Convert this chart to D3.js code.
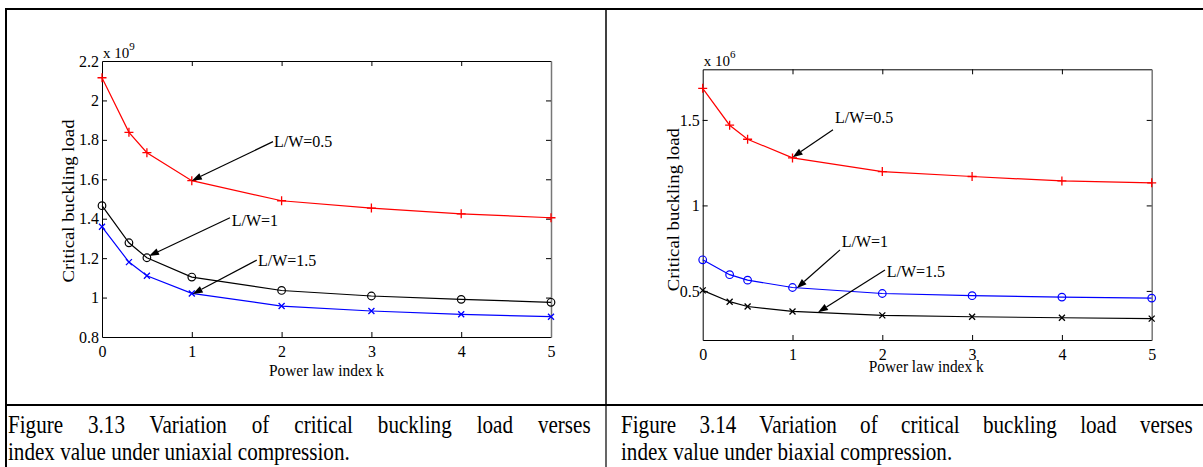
<!DOCTYPE html>
<html><head><meta charset="utf-8">
<script src="https://cdn.jsdelivr.net/npm/d3@7"></script>
<style>body{margin:0;background:#fff}svg{display:block}text{font-family:"Liberation Serif","Times New Roman",serif}</style>
</head><body>
<script>
const kValues = [0, 0.3, 0.5, 1, 2, 3, 4, 5];
// Figure 3.13 (x 10^9)
const uniLW05 = [2.115, 1.838, 1.735, 1.593, 1.491, 1.454, 1.425, 1.405];
const uniLW1  = [1.466, 1.278, 1.202, 1.104, 1.036, 1.008, 0.991, 0.976];
const uniLW15 = [1.359, 1.180, 1.111, 1.021, 0.957, 0.932, 0.915, 0.903];
// Figure 3.14 (x 10^6)
const biLW05 = [1.685, 1.469, 1.387, 1.278, 1.198, 1.169, 1.143, 1.132];
const biLW1  = [0.682, 0.595, 0.563, 0.520, 0.485, 0.472, 0.464, 0.458];
const biLW15 = [0.503, 0.437, 0.409, 0.380, 0.357, 0.349, 0.343, 0.338];
const xTicks = [0, 1, 2, 3, 4, 5];
const uniYTicks = [0.8, 1, 1.2, 1.4, 1.6, 1.8, 2, 2.2];
const biYTicks = [0.5, 1, 1.5];
const uniNotes = [
  {label:"L/W=0.5", head:[1, 1.593], tail:[1.904, 1.791], text:[1.915, 1.79]},
  {label:"L/W=1",   head:[0.523, 1.211], tail:[1.425, 1.405], text:[1.444, 1.393]},
  {label:"L/W=1.5", head:[1.01, 1.018], tail:[1.723, 1.19], text:[1.737, 1.19]}
];
const biNotes = [
  {label:"L/W=0.5", head:[1.002, 1.282], tail:[1.451, 1.442], text:[1.473, 1.512]},
  {label:"L/W=1",   head:[1.047, 0.516], tail:[1.529, 0.74], text:[1.548, 0.788]},
  {label:"L/W=1.5", head:[1.284, 0.375], tail:[2.03, 0.623], text:[2.049, 0.613]}
];
const captions = [
  ["Figure 3.13 Variation of critical buckling load verses", "index value under uniaxial compression."],
  ["Figure 3.14 Variation of critical buckling load verses", "index value under biaxial compression."]
];

const W = 1203, H = 467;
const svg = d3.select("body").append("svg").attr("width", W).attr("height", H);

// table frame
const tbl = svg.append("g").attr("stroke", "#000").attr("fill", "none");
tbl.append("line").attr("x1", 5).attr("x2", W).attr("y1", 9).attr("y2", 9).attr("stroke-width", 2);
tbl.append("line").attr("x1", 6).attr("x2", 6).attr("y1", 8).attr("y2", H).attr("stroke-width", 2);
tbl.append("line").attr("x1", 606).attr("x2", 606).attr("y1", 8).attr("y2", 405).attr("stroke-width", 1.5);
tbl.append("line").attr("x1", 606).attr("x2", 606).attr("y1", 405).attr("y2", H).attr("stroke-width", 1.2);
tbl.append("line").attr("x1", 5).attr("x2", W).attr("y1", 405).attr("y2", 405).attr("stroke-width", 2);

function markerPath(type, s) {
  if (type === "+") return `M${-s},0H${s}M0,${-s}V${s}`;
  if (type === "x") return `M${-s},${-s}L${s},${s}M${-s},${s}L${s},${-s}`;
  return "";
}

function drawChart(cfg) {
  const x = d3.scaleLinear().domain([0, 5]).range(cfg.xr);
  const y = d3.scaleLinear().domain(cfg.yd).range(cfg.yr);
  const g = svg.append("g");
  const x0 = cfg.xr[0], x1 = cfg.xr[1], y0 = cfg.yr[0], y1 = cfg.yr[1];
  const tl = 5;
  const xa = g.append("g").attr("transform", `translate(0,${y0})`)
    .call(d3.axisBottom(x).tickValues(xTicks).tickFormat(d3.format("d")).tickSizeInner(-tl).tickSizeOuter(0).tickPadding(9));
  const xt = g.append("g").attr("transform", `translate(0,${y1})`)
    .call(d3.axisTop(x).tickValues(xTicks).tickFormat("").tickSizeInner(-tl).tickSizeOuter(0));
  const ya = g.append("g").attr("transform", `translate(${x0},0)`)
    .call(d3.axisLeft(y).tickValues(cfg.yTicks).tickFormat(d => d3.format("")(+d.toFixed(1))).tickSizeInner(-tl).tickSizeOuter(0).tickPadding(3));
  const yr = g.append("g").attr("transform", `translate(${x1},0)`)
    .call(d3.axisRight(y).tickValues(cfg.yTicks).tickFormat("").tickSizeInner(-tl).tickSizeOuter(0));
  [xa, xt, ya, yr].forEach(a => {
    a.attr("font-family", null);
    a.selectAll("text").attr("font-size", 16).attr("fill", "#000");
    a.selectAll(".tick line").attr("stroke", "#000");
    a.select(".domain").attr("stroke", "#000");
  });
  yr.select(".domain").attr("stroke", "#777").attr("stroke-width", 1.5);
  xa.selectAll(".tick line").filter(d => d === 0 || d === 5).remove();
  xt.selectAll(".tick line").filter(d => d === 0 || d === 5).remove();
  ya.selectAll(".tick line").filter(d => y(d) <= y1 + 1 || y(d) >= y0 - 1).remove();
  yr.selectAll(".tick line").filter(d => y(d) <= y1 + 1 || y(d) >= y0 - 1).remove();

  const ex = g.append("text").attr("x", x0 + 1).attr("y", y1 - 3).attr("font-size", 15);
  ex.append("tspan").text("x 10");
  ex.append("tspan").attr("dy", -8).attr("font-size", 11).text(cfg.exp);

  g.append("text").attr("x", (x0 + x1) / 2 + cfg.xlDx).attr("y", cfg.xlY).attr("text-anchor", "middle")
    .attr("font-size", 17).attr("textLength", 115).attr("lengthAdjust", "spacingAndGlyphs").text("Power law index k");
  g.append("text").attr("transform", `translate(${cfg.ylX},${(y0 + y1) / 2 + cfg.ylDy}) rotate(-90)`)
    .attr("text-anchor", "middle").attr("font-size", 17).attr("textLength", 163).attr("lengthAdjust", "spacingAndGlyphs")
    .text("Critical buckling load");

  const line = d3.line().x((d, i) => x(kValues[i])).y(d => y(d));
  cfg.series.forEach(s => {
    g.append("path").datum(s.values).attr("d", line).attr("fill", "none").attr("stroke", s.color).attr("stroke-width", 1.2);
    const m = g.append("g");
    s.values.forEach((v, i) => {
      if (s.marker === "o") {
        m.append("circle").attr("cx", x(kValues[i])).attr("cy", y(v)).attr("r", 3.8)
          .attr("fill", "none").attr("stroke", s.color).attr("stroke-width", 1.2);
      } else {
        m.append("path").attr("transform", `translate(${x(kValues[i])},${y(v)})`)
          .attr("d", markerPath(s.marker, s.marker === "+" ? 4.5 : 3)).attr("stroke", s.color).attr("stroke-width", 1.3);
      }
    });
  });

  cfg.notes.forEach(n => {
    const hx = x(n.head[0]), hy = y(n.head[1]), tx = x(n.tail[0]), ty = y(n.tail[1]);
    const ang = Math.atan2(hy - ty, hx - tx);
    const L = 10, Wd = 3.5;
    const bx = hx - L * Math.cos(ang), by = hy - L * Math.sin(ang);
    g.append("line").attr("x1", tx).attr("y1", ty).attr("x2", bx).attr("y2", by).attr("stroke", "#000").attr("stroke-width", 1.2);
    const px = -Math.sin(ang) * Wd, py = Math.cos(ang) * Wd;
    g.append("path").attr("d", `M${hx},${hy}L${bx + px},${by + py}L${bx - px},${by - py}Z`).attr("fill", "#000");
    g.append("text").attr("x", x(n.text[0])).attr("y", y(n.text[1])).attr("dy", "0.35em")
      .attr("font-size", 16).text(n.label);
  });
}

drawChart({
  xr: [102, 551], yr: [337, 61], yd: [0.8, 2.2], yTicks: uniYTicks, exp: "9",
  xlY: 376, xlDx: 0, ylX: 74, ylDy: 2,
  series: [
    {values: uniLW05, color: "#ff0000", marker: "+"},
    {values: uniLW1, color: "#000000", marker: "o"},
    {values: uniLW15, color: "#0000ff", marker: "x"}
  ],
  notes: uniNotes
});
drawChart({
  xr: [702.7, 1151.7], yr: [340, 69.3], yd: [0.213, 1.796], yTicks: biYTicks, exp: "6",
  xlY: 372, xlDx: -1, ylX: 679, ylDy: 5,
  series: [
    {values: biLW05, color: "#ff0000", marker: "+"},
    {values: biLW1, color: "#0000ff", marker: "o"},
    {values: biLW15, color: "#000000", marker: "x"}
  ],
  notes: biNotes
});

// captions: justified first line, condensed serif text; [x start, line1 end]
const capX = [[8, 591], [621, 1193]];
const capY = [433, 460];
const capFont = 25;
// horizontal condensing taken from the left caption's second line (ends near x=350)
const probe = svg.append("text").attr("font-size", capFont).text(captions[0][1]);
const capScale = (350 - 8) / probe.node().getComputedTextLength();
probe.remove();
captions.forEach((lines, ci) => {
  const [cx, e1] = capX[ci];
  svg.append("text").attr("font-size", capFont).text(lines[1])
    .attr("transform", `translate(${cx},${capY[1]}) scale(${capScale},1)`);
  const t1 = svg.append("text").attr("font-size", capFont).text(lines[0]);
  const nat1 = t1.node().getComputedTextLength();
  const spaces = (lines[0].match(/ /g) || []).length;
  const ws = ((e1 - cx) / capScale - nat1) / spaces;
  t1.attr("word-spacing", ws).attr("transform", `translate(${cx},${capY[0]}) scale(${capScale},1)`);
});
</script>
</body></html>
